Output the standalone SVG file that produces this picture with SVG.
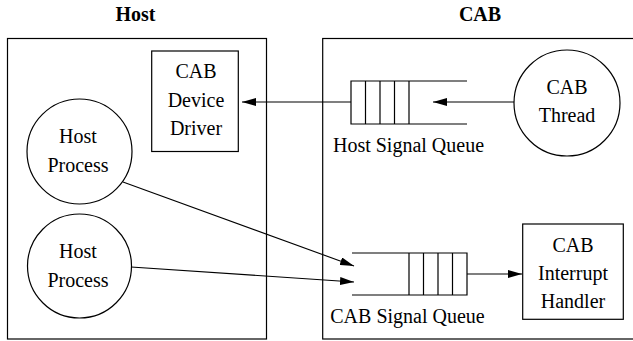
<svg xmlns="http://www.w3.org/2000/svg" width="633" height="341" viewBox="0 0 633 341">
<style>
text{font-family:"Liberation Serif","Times New Roman",serif;font-size:20px;fill:#000;text-anchor:middle}
.title{font-weight:bold}
.sh{fill:none;stroke:#000;stroke-width:1.2}
.ln{fill:none;stroke:#000;stroke-width:1.1}
</style>
<defs>
<marker id="ah" markerUnits="userSpaceOnUse" viewBox="0 0 14 8" markerWidth="14" markerHeight="8" refX="14" refY="4" orient="auto">
<path d="M0,0 L14,4 L0,8 z" fill="#000"/>
</marker>
</defs>
<rect width="633" height="341" fill="#fff"/>
<g id="host-frame">
<text class="title" x="135.5" y="21">Host</text>
<rect class="sh" x="7.5" y="38.5" width="259" height="300.5"/>
</g>
<g id="cab-frame">
<text class="title" x="480" y="21">CAB</text>
<rect class="sh" x="322.7" y="38.5" width="330" height="300.5"/>
</g>
<g id="device-driver">
<rect class="sh" x="151.7" y="51" width="86.6" height="100.5"/>
<text x="196" y="78">CAB</text>
<text x="196" y="107">Device</text>
<text x="196" y="135">Driver</text>
</g>
<g id="host-process-1">
<circle class="sh" cx="79.5" cy="151.5" r="52.5"/>
<text x="78" y="143">Host</text>
<text x="78" y="172">Process</text>
</g>
<g id="host-process-2">
<circle class="sh" cx="79.5" cy="266" r="52"/>
<text x="78" y="258">Host</text>
<text x="78" y="287">Process</text>
</g>
<g id="cab-thread">
<circle class="sh" cx="567" cy="103" r="53"/>
<text x="567" y="94">CAB</text>
<text x="567" y="122">Thread</text>
</g>
<g id="host-signal-queue">
<path class="sh" d="M467,81 H351 V124 H467 M365.5,81 V124 M380,81 V124 M394.5,81 V124 M409,81 V124"/>
<text x="408.5" y="152">Host Signal Queue</text>
</g>
<g id="cab-signal-queue">
<path class="sh" d="M352,253 H467 V295 H352 M409,253 V295 M423.5,253 V295 M438,253 V295 M452.5,253 V295"/>
<text x="407.5" y="323">CAB Signal Queue</text>
</g>
<g id="interrupt-handler">
<rect class="sh" x="522.7" y="224" width="100.6" height="95.3"/>
<text x="573" y="252">CAB</text>
<text x="573" y="280">Interrupt</text>
<text x="573" y="308">Handler</text>
</g>
<g id="connectors">
<line class="ln" x1="351" y1="102" x2="242" y2="102" marker-end="url(#ah)"/>
<line class="ln" x1="514" y1="102" x2="433" y2="102" marker-end="url(#ah)"/>
<line class="ln" x1="123" y1="182" x2="354" y2="266" marker-end="url(#ah)"/>
<line class="ln" x1="131" y1="267" x2="354" y2="282" marker-end="url(#ah)"/>
<line class="ln" x1="467" y1="274" x2="522" y2="274" marker-end="url(#ah)"/>
</g>
</svg>
